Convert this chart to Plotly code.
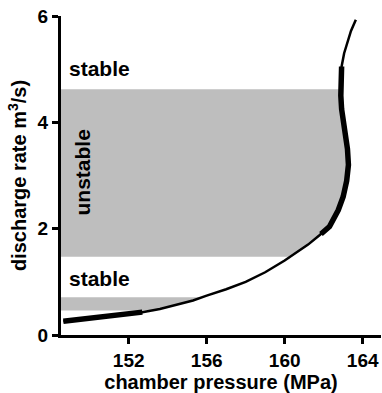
import numpy as np
import plotly.graph_objects as go

# Curve: chamber pressure (MPa) vs discharge rate (m3/s)
pressure = [148.65, 149.6, 150.5, 151.6, 152.7, 153.6, 154.5, 155.3, 156.0, 157.0, 158.0,
            159.0, 160.0, 160.6, 161.2, 161.8, 162.3, 162.75, 163.0, 163.18, 163.27,
            163.22, 163.1, 163.0, 162.92, 162.88, 162.88, 162.92, 163.05, 163.2, 163.4, 163.65]
discharge = [0.26, 0.30, 0.34, 0.38, 0.43, 0.49, 0.57, 0.65, 0.74, 0.86, 1.0,
             1.18, 1.40, 1.55, 1.70, 1.88, 2.04, 2.35, 2.6, 2.9, 3.2,
             3.5, 3.75, 4.0, 4.25, 4.5, 4.75, 5.05, 5.3, 5.5, 5.72, 5.93]

# unstable bands (discharge limits)
band_low = [0.46, 1.47]
band_high = [0.71, 4.62]

# thick segments of the curve (discharge limits)
thick_low = [0.0, 1.90]
thick_high = [0.43, 5.05]

# labels
stable_labels = ["stable", "stable"]
stable_y = [5.02, 1.07]
x_ticks = [152, 156, 160, 164]
y_ticks = [0, 2, 4, 6]

p = np.array(pressure)
q = np.array(discharge)

def segment(q0, q1):
    qq = np.concatenate(([q0], q[(q > q0) & (q < q1)], [q1]))
    qq = qq[(qq >= q.min()) & (qq <= q.max())]
    pp = np.interp(qq, q, p)
    return pp, qq

fig = go.Figure()

for lo, hi in zip(band_low, band_high):
    pp, qq = segment(lo, hi)
    fig.add_trace(go.Scatter(x=pp, y=qq, mode="lines", fill="tozerox",
                             fillcolor="#bebebe", line=dict(width=0, color="#bebebe"),
                             hoverinfo="skip", showlegend=False))

fig.add_trace(go.Scatter(x=p, y=q, mode="lines", line=dict(color="black", width=2.5),
                         showlegend=False))

for lo, hi in zip(thick_low, thick_high):
    pp, qq = segment(max(lo, q.min()), hi)
    fig.add_trace(go.Scatter(x=pp, y=qq, mode="lines", line=dict(color="black", width=5.5),
                             showlegend=False))

FAM = "Liberation Sans, Arial, sans-serif"
tick_font = dict(family=FAM, size=19, color="black", weight="bold")
title_font = dict(family=FAM, size=20, color="black", weight="bold")
ann_font = dict(family=FAM, size=21, color="black", weight="bold")

for txt, yy in zip(stable_labels, stable_y):
    fig.add_annotation(x=148.82, y=yy, text=txt, showarrow=False, xanchor="left",
                       yanchor="middle", font=ann_font)
fig.add_annotation(x=149.64, y=3.05, text="unstable", showarrow=False, textangle=-90,
                   xanchor="center", yanchor="middle", font=ann_font)

fig.update_layout(
    width=382, height=393,
    margin=dict(l=61, r=1, t=16, b=58),
    plot_bgcolor="white", paper_bgcolor="white",
    font=dict(family=FAM, color="black"),
)
fig.update_xaxes(range=[148.53, 164.94], tickvals=x_ticks, ticks="outside", ticklen=6,
                 tickwidth=2.5, tickcolor="black", showline=True, linewidth=3, linecolor="black",
                 showgrid=False, zeroline=False, tickfont=tick_font, automargin=False,
                 title=dict(text="chamber pressure (MPa)", font=title_font, standoff=0))
fig.update_yaxes(range=[0, 6], tickvals=y_ticks, ticks="outside", ticklen=6,
                 tickwidth=2.5, tickcolor="black", showline=True, linewidth=3, linecolor="black",
                 showgrid=False, zeroline=False, tickfont=tick_font, automargin=False,
                 title=dict(text="discharge rate m<sup>3</sup>/s)", font=title_font, standoff=6))

fig.write_html("out.html", config={"displayModeBar": False},
               post_script="document.body.style.margin='0';document.body.style.overflow='hidden';")
